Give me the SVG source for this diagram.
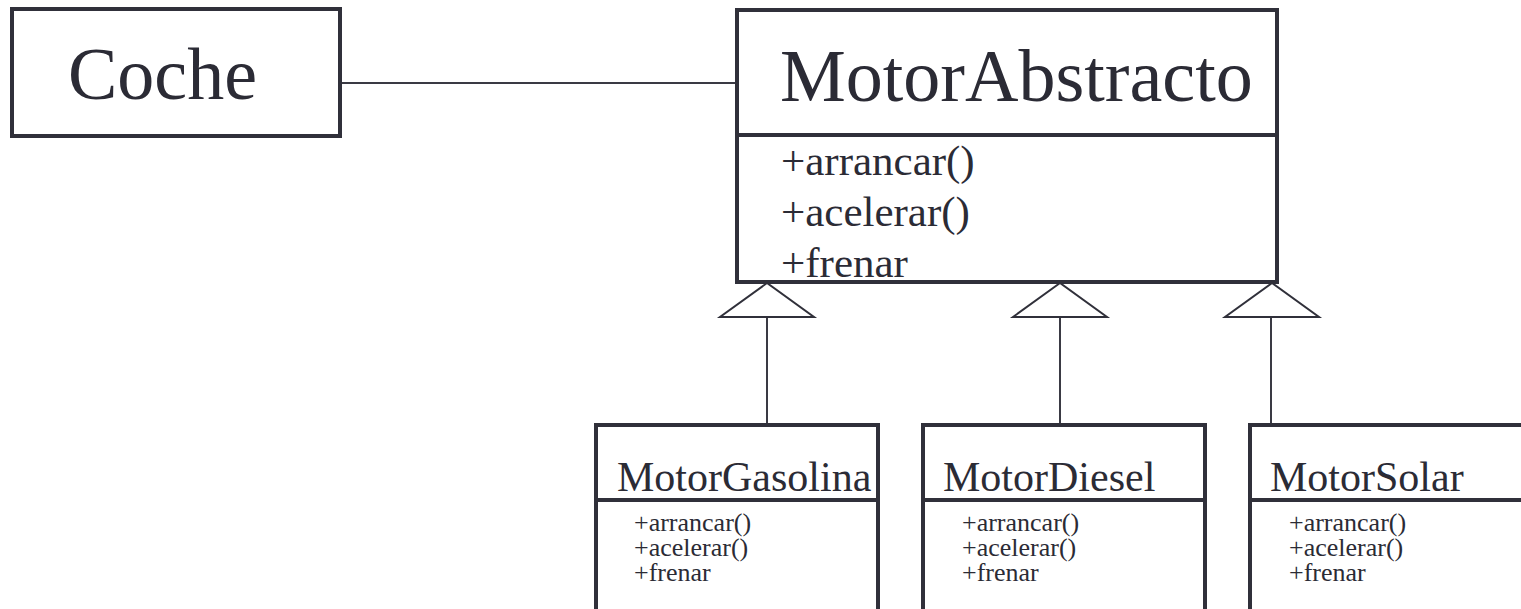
<svg xmlns="http://www.w3.org/2000/svg" width="1521" height="609" viewBox="0 0 1521 609" font-family="'Liberation Serif', Tinos, 'DejaVu Serif', serif">
  <style>
    .box { fill: #ffffff; stroke: #30303a; stroke-width: 4; }
    .div { stroke: #30303a; stroke-width: 4; }
    .link { stroke: #3a3a44; stroke-width: 2; fill: none; }
    .tri { fill: #ffffff; stroke: #30303a; stroke-width: 2; }
    .t { font-family: 'Liberation Serif', Tinos, 'DejaVu Serif', serif; fill: #2b2b35; }
    .big { font-size: 74px; }
    .mid { font-size: 43px; }
    .sub { font-size: 42px; }
    .small { font-size: 26px; }
  </style>
  <rect width="1521" height="609" fill="#ffffff"/>

  <!-- connectors: association and generalizations -->
  <g id="connectors">
    <line class="link" x1="340" y1="83" x2="737" y2="83"/>
    <line class="link" x1="767" y1="317" x2="767" y2="425"/>
    <polygon class="tri" points="767,283 720,317 814,317"/>
    <line class="link" x1="1060" y1="317" x2="1060" y2="425"/>
    <polygon class="tri" points="1060,283 1013,317 1107,317"/>
    <line class="link" x1="1271" y1="317" x2="1271" y2="425"/>
    <polygon class="tri" points="1272,283 1225,317 1319,317"/>
  </g>

  <g id="coche">
    <rect class="box" x="12" y="9" width="328" height="127"/>
    <text class="t big" x="68" y="99">Coche</text>
  </g>

  <g id="motor-abstracto">
    <rect class="box" x="737" y="10" width="540" height="272"/>
    <line class="div" x1="737" y1="135" x2="1277" y2="135"/>
    <text class="t big" x="780" y="101">MotorAbstracto</text>
    <text class="t mid" x="781" y="175">+arrancar()</text>
    <text class="t mid" x="781" y="226">+acelerar()</text>
    <text class="t mid" x="781" y="277">+frenar</text>
  </g>

  <g id="motor-gasolina">
    <rect class="box" x="596" y="425" width="282" height="200"/>
    <line class="div" x1="596" y1="500" x2="878" y2="500"/>
    <text class="t sub" x="617" y="491">MotorGasolina</text>
    <text class="t small" x="634" y="531">+arrancar()</text>
    <text class="t small" x="634" y="556">+acelerar()</text>
    <text class="t small" x="634" y="581">+frenar</text>
  </g>

  <g id="motor-diesel">
    <rect class="box" x="923" y="425" width="282" height="200"/>
    <line class="div" x1="923" y1="500" x2="1205" y2="500"/>
    <text class="t sub" x="943" y="491">MotorDiesel</text>
    <text class="t small" x="962" y="531">+arrancar()</text>
    <text class="t small" x="962" y="556">+acelerar()</text>
    <text class="t small" x="962" y="581">+frenar</text>
  </g>

  <g id="motor-solar">
    <rect class="box" x="1250" y="425" width="282" height="200"/>
    <line class="div" x1="1250" y1="500" x2="1532" y2="500"/>
    <text class="t sub" x="1270" y="491">MotorSolar</text>
    <text class="t small" x="1289" y="531">+arrancar()</text>
    <text class="t small" x="1289" y="556">+acelerar()</text>
    <text class="t small" x="1289" y="581">+frenar</text>
  </g>
</svg>
